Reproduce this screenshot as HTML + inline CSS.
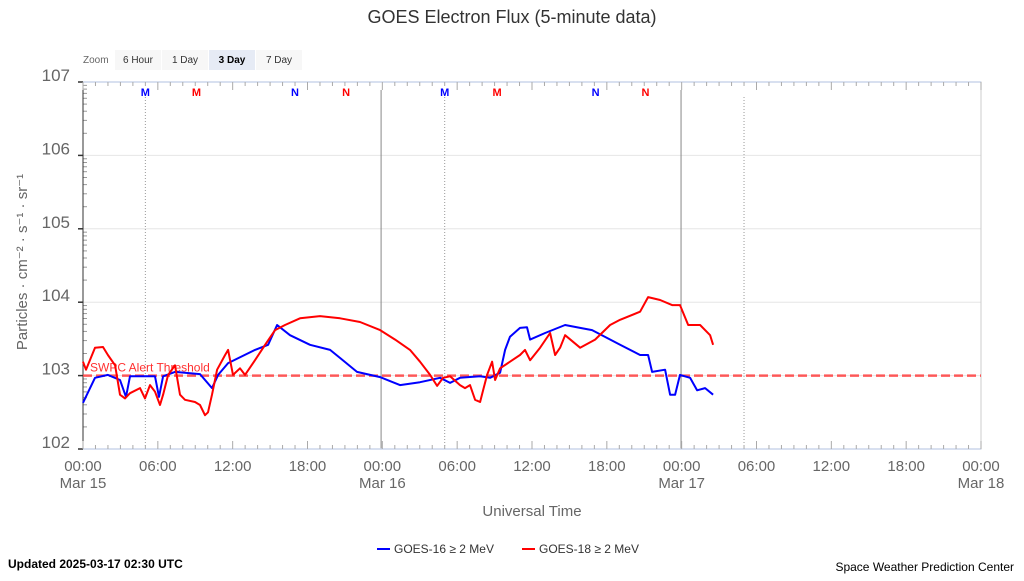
<!DOCTYPE html>
<html><head><meta charset="utf-8"><style>
body{margin:0;background:#fff;font-family:"Liberation Sans",sans-serif}
svg text{font-family:"Liberation Sans",sans-serif}
</style></head><body>
<svg id="c" width="1024" height="576" viewBox="0 0 1024 576">
<text x="512" y="23" text-anchor="middle" font-size="18" fill="#333">GOES Electron Flux (5-minute data)</text>
<g>
<text x="83" y="63" font-size="10" fill="#666">Zoom</text>
<rect x="115" y="50" width="46" height="20" fill="#f7f7f7"/><text x="138" y="63" text-anchor="middle" font-size="10" fill="#333">6 Hour</text>
<rect x="162" y="50" width="46" height="20" fill="#f7f7f7"/><text x="185" y="63" text-anchor="middle" font-size="10" fill="#333">1 Day</text>
<rect x="209" y="50" width="46" height="20" fill="#e6ebf5"/><text x="232" y="63" text-anchor="middle" font-size="10" font-weight="bold" fill="#000">3 Day</text>
<rect x="256" y="50" width="46" height="20" fill="#f7f7f7"/><text x="279" y="63" text-anchor="middle" font-size="10" fill="#333">7 Day</text>
</g>
<g id="grid"></g><g id="axes"></g><g id="series"></g>
<text transform="translate(27,262) rotate(-90)" text-anchor="middle" font-size="15" fill="#666">Particles · cm⁻² · s⁻¹ · sr⁻¹</text>
<text x="532" y="516" text-anchor="middle" font-size="15" fill="#666">Universal Time</text>
<g>
<g><line x1="377" y1="549" x2="390" y2="549" stroke="#0000ff" stroke-width="2"/><text x="394" y="553" font-size="12" fill="#333">GOES-16 ≥ 2 MeV</text></g>
<g><line x1="522" y1="549" x2="535" y2="549" stroke="#ff0000" stroke-width="2"/><text x="539" y="553" font-size="12" fill="#333">GOES-18 ≥ 2 MeV</text></g>
</g>
<text x="8" y="568" font-size="12" font-weight="bold" fill="#000">Updated 2025-03-17 02:30 UTC</text>
<text x="1014" y="571" text-anchor="end" font-size="12" fill="#000">Space Weather Prediction Center</text>
</svg>
<script>
const yTicks=[2,3,4,5,6,7];
const yTickLabels=["102","103","104","105","106","107"];
const xTickHours=[0,6,12,18,24,30,36,42,48,54,60,66,72];
const xTickLabels=["00:00","06:00","12:00","18:00","00:00","06:00","12:00","18:00","00:00","06:00","12:00","18:00","00:00"];
const xDateLabels={0:"Mar 15",24:"Mar 16",48:"Mar 17",72:"Mar 18"};
const threshold=3;
const dayLines=[23.9,47.95];
const dotLines=[5,29,53];
const markerHours=[5,9.1,17,21.1,29,33.2,41.1,45.1];
const markerText=["M","M","N","N","M","M","N","N"];
const markerColor=["#0000ff","#ff0000","#0000ff","#ff0000","#0000ff","#ff0000","#0000ff","#ff0000"];
const g16Hours=[0,0.96,2,2.97,3.45,3.77,5.77,6.09,6.42,7.38,9.38,10.34,10.83,11.63,13.79,14.84,15.56,16.6,18.2,19.81,20.61,21.97,23.82,25.42,27.02,28.63,29.43,30.23,31.84,32.64,33.44,33.84,34.24,35.04,35.6,35.85,37.05,38.65,39.86,40.82,43.06,44.67,45.31,45.63,46.67,47.07,47.47,47.87,48.68,49.24,49.88,50.52];
const g16Log=[2.63,2.97,3.01,2.94,2.71,2.99,2.99,2.71,2.99,3.05,3.02,2.83,3.01,3.17,3.35,3.42,3.69,3.55,3.42,3.35,3.24,3.05,2.98,2.87,2.91,2.97,2.90,2.97,2.99,2.97,3.04,3.35,3.53,3.65,3.66,3.49,3.58,3.69,3.65,3.62,3.42,3.28,3.28,3.05,3.08,2.74,2.74,3.01,2.97,2.80,2.83,2.74];
const g18Hours=[0,0.24,0.96,1.6,2,2.57,2.97,3.37,3.77,4.57,4.97,5.37,5.77,6.17,6.42,6.82,7.38,7.78,8.18,8.98,9.38,9.78,10.02,10.34,10.75,11.39,11.63,12.03,12.59,12.99,13.79,14.6,15.4,16.2,17.4,19,20.61,22.21,23.82,25.02,26.22,27.02,27.83,28.39,28.87,29.43,30.23,30.63,31.03,31.44,31.84,32.08,32.4,32.8,33.04,33.44,34.24,35.04,35.44,35.85,36.65,37.45,37.85,38.25,38.65,39.86,41.06,42.26,43.06,44.67,45.31,46.27,47.23,47.87,48.52,49.48,50.28,50.52];
const g18Log=[3.19,3.08,3.38,3.39,3.28,3.14,2.74,2.69,2.76,2.83,2.69,2.87,2.78,2.60,2.74,3.01,3.14,2.74,2.67,2.64,2.60,2.46,2.50,2.74,3.08,3.28,3.35,3.01,3.10,3.01,3.21,3.42,3.62,3.69,3.78,3.81,3.78,3.73,3.62,3.49,3.35,3.19,3.01,2.86,2.97,2.99,2.87,2.83,2.87,2.67,2.64,2.80,3.01,3.19,2.94,3.10,3.19,3.28,3.35,3.21,3.38,3.58,3.28,3.38,3.55,3.38,3.49,3.69,3.76,3.87,4.07,4.03,3.96,3.96,3.69,3.69,3.55,3.42];

const L=83,R=981,T=82,B=449;
const X=h=>L+h*(R-L)/72;
const Y=v=>B-(v-2)*(B-T)/5;
const NS="http://www.w3.org/2000/svg";
function mk(tag,attrs,parent,txt){const e=document.createElementNS(NS,tag);for(const k in attrs)e.setAttribute(k,attrs[k]);if(txt!=null)e.textContent=txt;document.getElementById(parent).appendChild(e);return e;}
yTicks.forEach((t,i)=>{
 const gl=mk('line',{x1:L,x2:R,y1:Y(t),y2:Y(t),stroke:'#e6e6e6'},'grid');
 
 
 const lb=mk('text',{x:70,y:Y(t)-1,'text-anchor':'end','font-size':'17',fill:'#666'},'axes',yTickLabels[i]);
 
 
 mk('line',{x1:L-5,x2:L,y1:Y(t),y2:Y(t),stroke:'#333','stroke-width':1.5},'axes');
 if(t<7){for(let m=2;m<10;m++){const yy=Y(t+Math.log10(m));mk('line',{x1:L,x2:L+4,y1:yy,y2:yy,stroke:'#999'},'axes');}}
});
mk('rect',{x:L,y:T,width:R-L,height:B-T,fill:'none',stroke:'#ccc'},'grid');
mk('line',{x1:L,x2:R,y1:T,y2:T,stroke:'#ccd6eb','stroke-width':1.5},'axes');
mk('line',{x1:L,x2:R,y1:B,y2:B,stroke:'#ccd6eb','stroke-width':1.5},'axes');
mk('line',{x1:L,x2:L,y1:T,y2:B,stroke:'#333'},'axes');
for(let h=0;h<=72;h++){const len=h%6==0?8:4;
 mk('line',{x1:X(h),x2:X(h),y1:B,y2:B-len,stroke:'#aaa'},'axes');
 mk('line',{x1:X(h),x2:X(h),y1:T,y2:T+len,stroke:'#aaa'},'axes');}
xTickHours.forEach((h,i)=>{
 const lb=mk('text',{x:X(h),y:471,'text-anchor':'middle','font-size':'15',fill:'#666'},'axes',xTickLabels[i]);
 
 
 if(xDateLabels[h]){const d=mk('text',{x:X(h),y:488,'text-anchor':'middle','font-size':'15',fill:'#666'},'axes',xDateLabels[h]);
 
 }
});
dayLines.forEach(h=>{const e=mk('line',{x1:X(h),x2:X(h),y1:90,y2:B,stroke:'#888'},'grid');
 
 });
dotLines.forEach(h=>{const e=mk('line',{x1:X(h),x2:X(h),y1:97,y2:B,stroke:'#999','stroke-dasharray':'1,2'},'grid');
 
 });
markerHours.forEach((h,i)=>{const e=mk('text',{x:X(h),y:96,'text-anchor':'middle','font-size':'11','font-weight':'bold',fill:markerColor[i]},'axes',markerText[i]);
 
 });
const th=mk('line',{x1:L,x2:R,y1:Y(threshold),y2:Y(threshold),stroke:'#ff4040','stroke-width':2.5,'stroke-dasharray':'9,4','opacity':0.85},'series');


const tl=mk('text',{x:L+7,y:Y(threshold)-4,'font-size':'12',fill:'#ff3030'},'series','SWPC Alert Threshold');


function line(hs,vs,color,name){const d=hs.map((h,i)=>(i?'L':'M')+X(h).toFixed(1)+','+Y(vs[i]).toFixed(1)).join('');
 const p=mk('path',{d:d,fill:'none',stroke:color,'stroke-width':2,'stroke-linejoin':'round'},'series');
 
 }
line(g16Hours,g16Log,'#0000ff','goes16-series');
line(g18Hours,g18Log,'#ff0000','goes18-series');
</script>
</body></html>
